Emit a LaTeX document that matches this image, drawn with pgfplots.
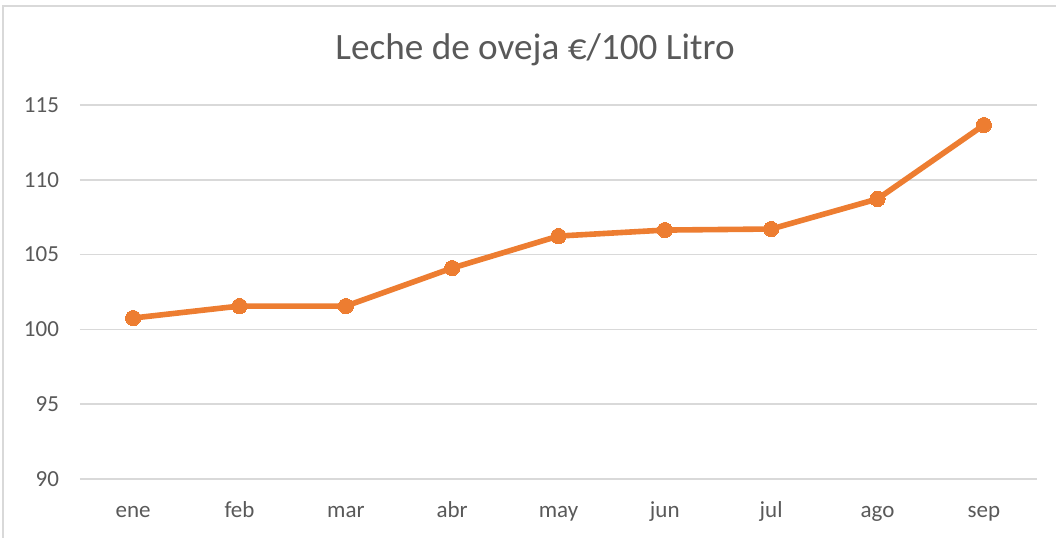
\documentclass[border=0pt]{standalone}
\usepackage{pgfplots}
\pgfplotsset{compat=1.18}
\usepackage{fontspec}
\setmainfont{Carlito}
\definecolor{naranja}{HTML}{ED7D31}
\definecolor{rejilla}{HTML}{D9D9D9}
\definecolor{texto}{HTML}{595959}
\begin{document}
\begin{tikzpicture}
\begin{axis}[
    at={(0,0)}, anchor=south west,
    scale only axis,
    width=478.5pt, height=187pt,
    xmin=-0.5, xmax=8.5,
    ymin=90, ymax=115,
    xtick={0,...,8},
    xticklabels={ene,feb,mar,abr,may,jun,jul,ago,sep},
    ytick={90,95,...,115},
    axis line style={draw=none},
    major tick length=0pt,
    ymajorgrids,
    grid style={rejilla, line width=0.75pt},
    tick label style={font=\fontsize{11.5}{13}\selectfont, text=texto},
    /pgf/number format/assume math mode=true,
    yticklabel style={xshift=-7pt},
    xticklabel style={yshift=-8.5pt, text height=1.5ex, text depth=0.3ex},
    clip=false,
]
\addplot[naranja, line width=2.8pt, mark=*, mark size=3.8pt,
         mark options={fill=naranja, draw=naranja, line width=0pt}] coordinates {
    (0,100.76)
    (1,101.56)
    (2,101.56)
    (3,104.10)
    (4,106.24)
    (5,106.64)
    (6,106.71)
    (7,108.72)
    (8,113.66)
};
\end{axis}
% titulo
\node[text=texto, font=\fontsize{18.6}{22}\selectfont] at (227.5pt, 214.5pt) {Leche de oveja €/100 Litro};
% marco del grafico
\draw[rejilla, line width=0.75pt] (-38.5pt,-40pt) rectangle (500pt, 236.5pt);
\pgfresetboundingbox
\useasboundingbox (-40pt,-29pt) rectangle (488pt,239.5pt);
\end{tikzpicture}
\end{document}
